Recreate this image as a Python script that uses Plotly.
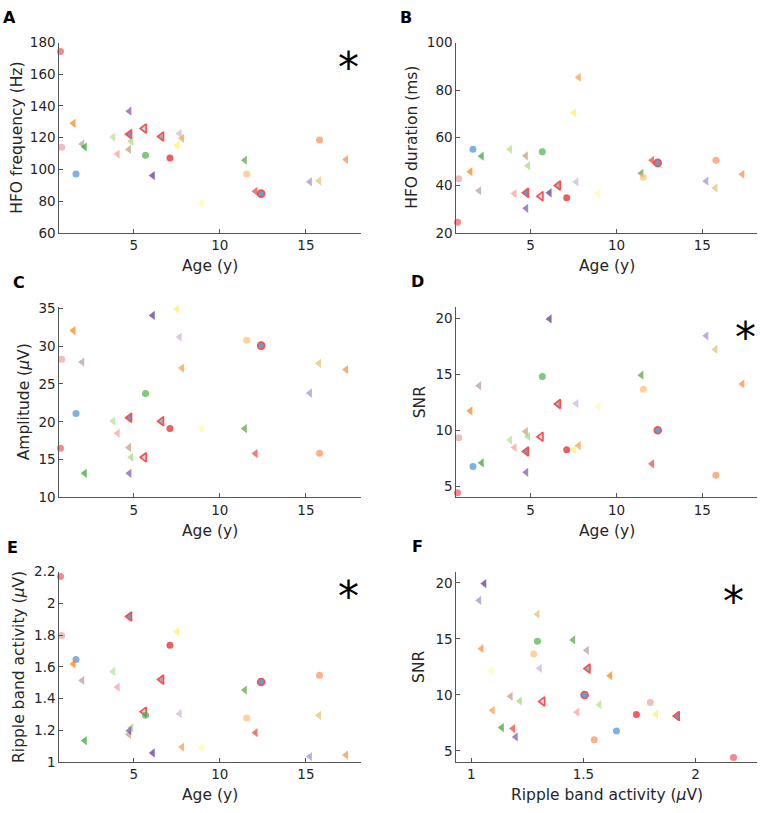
import plotly.graph_objects as go

# ---- data (one entry per subject) ----
age = [0.74, 0.81, 1.64, 1.49, 2.00, 2.15, 3.80, 4.06, 4.72, 4.75, 4.85, 4.74, 5.60, 5.68, 6.10,
       6.61, 7.10, 7.52, 7.66, 7.80, 8.93, 11.45, 11.56, 12.07, 12.40, 15.23, 15.79, 15.76, 17.33]
hfo_freq = [174.4, 114.0, 97.1, 129.1, 116.1, 114.2, 120.4, 109.7, 112.6, 122.1, 117.7, 136.7, 125.8, 108.9, 96.1,
            120.8, 107.2, 115.3, 122.7, 119.6, 78.6, 105.8, 97.1, 86.2, 84.7, 92.2, 118.6, 92.8, 106.2]
hfo_dur = [24.4, 42.7, 55.1, 45.7, 37.7, 52.2, 55.1, 36.5, 52.4, 36.8, 48.2, 30.3, 35.4, 54.1, 36.8,
           39.9, 34.7, 70.4, 41.4, 85.4, 36.5, 45.0, 43.4, 50.5, 49.4, 41.7, 50.5, 38.8, 44.6]
amplitude = [16.5, 28.25, 21.1, 32.06, 27.9, 13.2, 20.1, 18.5, 16.6, 20.55, 15.3, 13.2, 15.3, 23.75, 34.05,
             20.08, 19.1, 34.9, 31.2, 27.1, 19.1, 19.1, 30.76, 15.8, 30.07, 23.8, 15.84, 27.73, 26.9]
snr = [4.42, 9.33, 6.77, 11.72, 13.98, 7.09, 9.13, 8.46, 9.88, 8.11, 9.45, 6.25, 9.42, 14.8, 19.94,
       12.35, 8.26, 8.26, 12.38, 8.63, 12.15, 14.91, 13.66, 7.0, 10.0, 18.43, 5.99, 17.21, 14.13]
ripple = [2.169, 1.798, 1.647, 1.619, 1.515, 1.136, 1.571, 1.472, 1.175, 1.918, 1.216, 1.198, 1.318, 1.295, 1.058,
          1.52, 1.736, 1.823, 1.305, 1.095, 1.091, 1.454, 1.278, 1.186, 1.505, 1.035, 1.548, 1.295, 1.045]

colors = ["#F2545B", "#E5A3A3", "#4A90D9", "#FF7F00", "#B39B97", "#2CA02C", "#B2DF8A", "#FB9A99", "#C19A7B",
          "#1F78B4", "#9FD872", "#7B52AE", "#A6CEE3", "#4DAF4A", "#5B2C8F", "#5F9EA0", "#E41A1C", "#FFEF5C",
          "#CAB2D6", "#FD9A3C", "#FFFF99", "#5A9E3C", "#FDBF6F", "#E8413A", "#1F78B4", "#9E8FCB", "#FC8D59",
          "#E6BE6A", "#F88B3E"]
is_circle = [1, 1, 1, 0, 0, 0, 0, 0, 0, 0, 0, 0, 0, 1, 0, 0, 1, 0, 0, 0, 0, 0, 1, 0, 1, 0, 1, 0, 0]
outlined = [0, 0, 0, 0, 0, 0, 0, 0, 0, 1, 0, 0, 1, 0, 0, 1, 0, 0, 0, 0, 0, 0, 0, 0, 1, 0, 0, 0, 0]

symbols = ["circle" if c else "triangle-left" for c in is_circle]
sizes = [(7 if c else 8) for c in is_circle]
line_colors = ["#FF0000" if o else "rgba(0,0,0,0)" for o in outlined]
line_widths = [1.6 if o else 0 for o in outlined]

W, H = 760, 813
FONT = "DejaVu Sans"
TICK_COLOR = "#262626"
AX_COLOR = "#555555"

def xd(a, b):
    return [a / W, b / W]

def yd(top, bottom):
    return [1 - bottom / H, 1 - top / H]

# key, x-extent(px), y-extent(px), x, y, xrange, yrange, xticks, yticks, xtitle, ytitle, ytitle x(px)
panels = [
    ("A", (59.3, 361), (35.3, 229.3), age, hfo_freq, [0.67, 18.2], [60, 180],
     [5, 10, 15], [60, 80, 100, 120, 140, 160, 180], "Age (y)", "HFO frequency (Hz)", 17),
    ("B", (456.3, 757.3), (35.3, 229.3), age, hfo_dur, [0.67, 18.2], [20, 100],
     [5, 10, 15], [20, 40, 60, 80, 100], "Age (y)", "HFO duration (ms)", 412),
    ("C", (59.3, 361), (305, 499.3), age, amplitude, [0.67, 18.2], [10, 35.17],
     [5, 10, 15], [10, 15, 20, 25, 30, 35], "Age (y)", "Amplitude (<i>μ</i>V)", 24),
    ("D", (456.3, 757.3), (305, 499.3), age, snr, [0.67, 18.2], [4, 21],
     [5, 10, 15], [5, 10, 15, 20], "Age (y)", "SNR", 420),
    ("E", (59.3, 361), (575, 769.3), age, ripple, [0.67, 18.2], [1, 2.2],
     [5, 10, 15], [1, 1.2, 1.4, 1.6, 1.8, 2, 2.2], "Age (y)", "Ripple band activity (<i>μ</i>V)", 19),
    ("F", (456.3, 757.3), (575, 769.3), ripple, snr, [0.933, 2.275], [4, 21],
     [1, 1.5, 2], [5, 10, 15, 20], "Ripple band activity (<i>μ</i>V)", "SNR", 419),
]

def fmt(v):
    return "%g" % v

fig = go.Figure()
layout = dict(
    width=W, height=H, margin=dict(l=0, r=0, t=0, b=0),
    paper_bgcolor="white", plot_bgcolor="white", showlegend=False,
    font=dict(family=FONT, color=TICK_COLOR, size=13.5),
)

title_font = dict(family=FONT, size=15.5, color=TICK_COLOR)

for i, (key, xpx, ypx, xv, yv, xr, yr, xt, yt, xtitle, ytitle, ytx) in enumerate(panels):
    n = i + 1
    xa = "x" if n == 1 else f"x{n}"
    ya = "y" if n == 1 else f"y{n}"
    fig.add_trace(go.Scatter(
        x=xv, y=yv, mode="markers", xaxis=xa, yaxis=ya,
        marker=dict(symbol=symbols, size=sizes, color=colors,
                    line=dict(color=line_colors, width=line_widths)),
        hoverinfo="x+y", cliponaxis=False,
    ))
    common = dict(showline=True, linecolor=AX_COLOR, linewidth=1, mirror=False,
                  showgrid=False, zeroline=False, ticks="inside", ticklen=4,
                  tickcolor=AX_COLOR, tickwidth=1,
                  tickfont=dict(family=FONT, size=13.5, color=TICK_COLOR))
    layout["xaxis" if n == 1 else f"xaxis{n}"] = dict(
        common, domain=xd(*xpx), range=xr, anchor=ya, tickmode="array",
        tickvals=xt, ticktext=[fmt(v) for v in xt])
    layout["yaxis" if n == 1 else f"yaxis{n}"] = dict(
        common, domain=yd(*ypx), range=yr, anchor=xa, tickmode="array",
        tickvals=yt, ticktext=[fmt(v) for v in yt])
    fig.add_annotation(text=xtitle, x=(xpx[0] + xpx[1]) / 2 / W, y=1 - (ypx[1] + 34) / H,
                       xref="paper", yref="paper", xanchor="center", yanchor="middle",
                       showarrow=False, font=title_font)
    fig.add_annotation(text=ytitle, x=ytx / W, y=1 - (ypx[0] + ypx[1]) / 2 / H,
                       xref="paper", yref="paper", xanchor="center", yanchor="middle",
                       textangle=-90, showarrow=False, font=title_font)

fig.update_layout(**layout)

letters = [("A", 9, 10), ("B", 406, 10), ("C", 19, 280), ("D", 417, 279), ("E", 12, 550), ("F", 417, 549)]
for t, px, py in letters:
    fig.add_annotation(text=f"<b>{t}</b>", x=px / W, y=1 - py / H, xref="paper", yref="paper",
                       xanchor="center", yanchor="middle", showarrow=False,
                       font=dict(family=FONT, size=16, color="black"))

# significance stars (glyph centre sits ~8 px above the text-box centre)
stars = [(348, 53), (745, 328), (348, 592), (733, 597)]
for px, py in stars:
    fig.add_annotation(text="*", x=px / W, y=1 - (py + 8) / H, xref="paper", yref="paper",
                       xanchor="center", yanchor="middle", showarrow=False,
                       font=dict(family=FONT, size=42, color="black"))

# remove the default 8px page margin so the figure sits at the window origin; hide the modebar
fig.write_html("out.html", config={"displayModeBar": False},
               post_script="document.body.style.margin='0';document.body.style.overflow='hidden';")
